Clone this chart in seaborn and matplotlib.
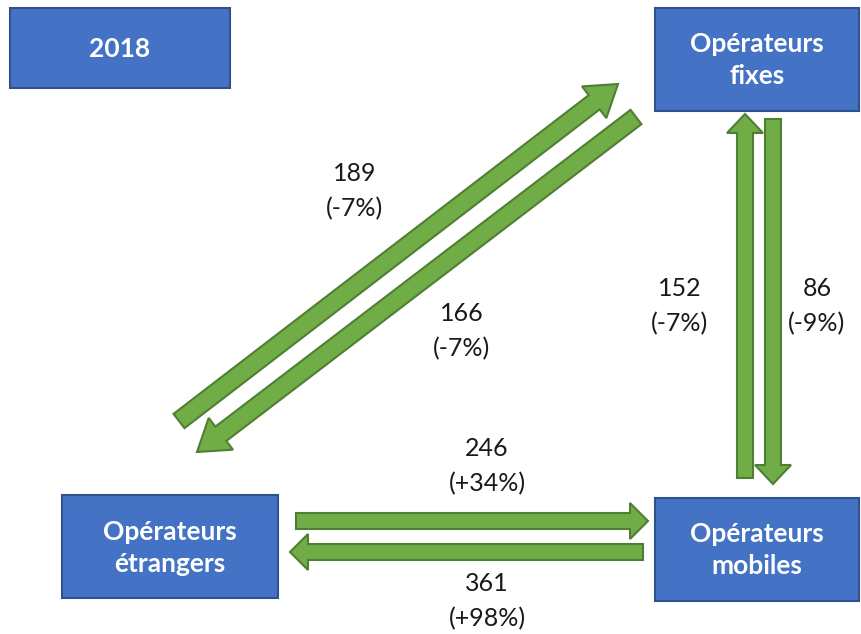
import matplotlib
matplotlib.use("Agg")
import matplotlib.pyplot as plt
from matplotlib.patches import FancyArrow, Rectangle
import seaborn as sns

# ---- data ----
year_label = "2018"
node_names = ["Opérateurs\nfixes", "Opérateurs\nétrangers", "Opérateurs\nmobiles"]
flow_sources = ["Opérateurs\nétrangers", "Opérateurs\nfixes", "Opérateurs\nmobiles",
                "Opérateurs\nfixes", "Opérateurs\nétrangers", "Opérateurs\nmobiles"]
flow_targets = ["Opérateurs\nfixes", "Opérateurs\nétrangers", "Opérateurs\nfixes",
                "Opérateurs\nmobiles", "Opérateurs\nmobiles", "Opérateurs\nétrangers"]
flow_values = [189, 166, 152, 86, 246, 361]
flow_changes = ["-7%", "-7%", "-7%", "-9%", "+34%", "+98%"]

# ---- layout (pixel coordinates) ----
W, H = 862, 634
box_geom = {  # x0, y0, x1, y1
    "year": (10, 8, 230, 88),
    "Opérateurs\nfixes": (655, 8, 859, 111),
    "Opérateurs\nétrangers": (62, 495, 278, 598),
    "Opérateurs\nmobiles": (655, 498, 859, 601),
}
# arrow geometry: tail (x,y), tip (x,y), shaft width, head width, head length
arrow_geom = [
    ((179, 421), (618, 84), 18, 40, 30),
    ((636, 117), (197, 452), 18, 40, 30),
    ((745, 478), (745, 114), 16, 36, 19),
    ((773, 119), (773, 484), 16, 36, 19),
    ((296, 521), (648, 521), 16, 36, 18),
    ((643, 552), (290, 552), 16, 36, 18),
]
label_pos = [(355, 191), (462, 331), (680, 306), (817, 306), (487, 466), (487, 601)]

box_fc, box_ec = "#4472C4", "#2F528F"
arr_fc, arr_ec = "#70AD47", "#507E32"

sns.set_theme(style="white")
plt.rcParams["font.family"] = ["Lato", "DejaVu Sans"]

fig = plt.figure(figsize=(W / 100, H / 100), dpi=100)
ax = fig.add_axes([0, 0, 1, 1])
ax.set_xlim(0, W)
ax.set_ylim(H, 0)
ax.axis("off")

def draw_box(key, text):
    x0, y0, x1, y1 = box_geom[key]
    ax.add_patch(Rectangle((x0, y0), x1 - x0, y1 - y0, facecolor=box_fc,
                           edgecolor=box_ec, linewidth=1.5, zorder=2))
    ax.text((x0 + x1) / 2, (y0 + y1) / 2 + 1, text, color="white", fontsize=19,
            fontweight="bold", ha="center", va="center", linespacing=1.4, zorder=3)

draw_box("year", year_label)
for n in node_names:
    draw_box(n, n)

for (tail, tip, w, hw, hl), val, chg, (lx, ly) in zip(arrow_geom, flow_values,
                                                    flow_changes, label_pos):
    dx, dy = tip[0] - tail[0], tip[1] - tail[1]
    ax.add_patch(FancyArrow(tail[0], tail[1], dx, dy, width=w, head_width=hw,
                            head_length=hl, length_includes_head=True,
                            facecolor=arr_fc, edgecolor=arr_ec, linewidth=1.5,
                            zorder=2))
    ax.text(lx, ly, f"{val}\n({chg})", color="#1a1a1a", fontsize=18,
            ha="center", va="center", linespacing=1.6, zorder=3)

fig.savefig("out.png", dpi=100)
